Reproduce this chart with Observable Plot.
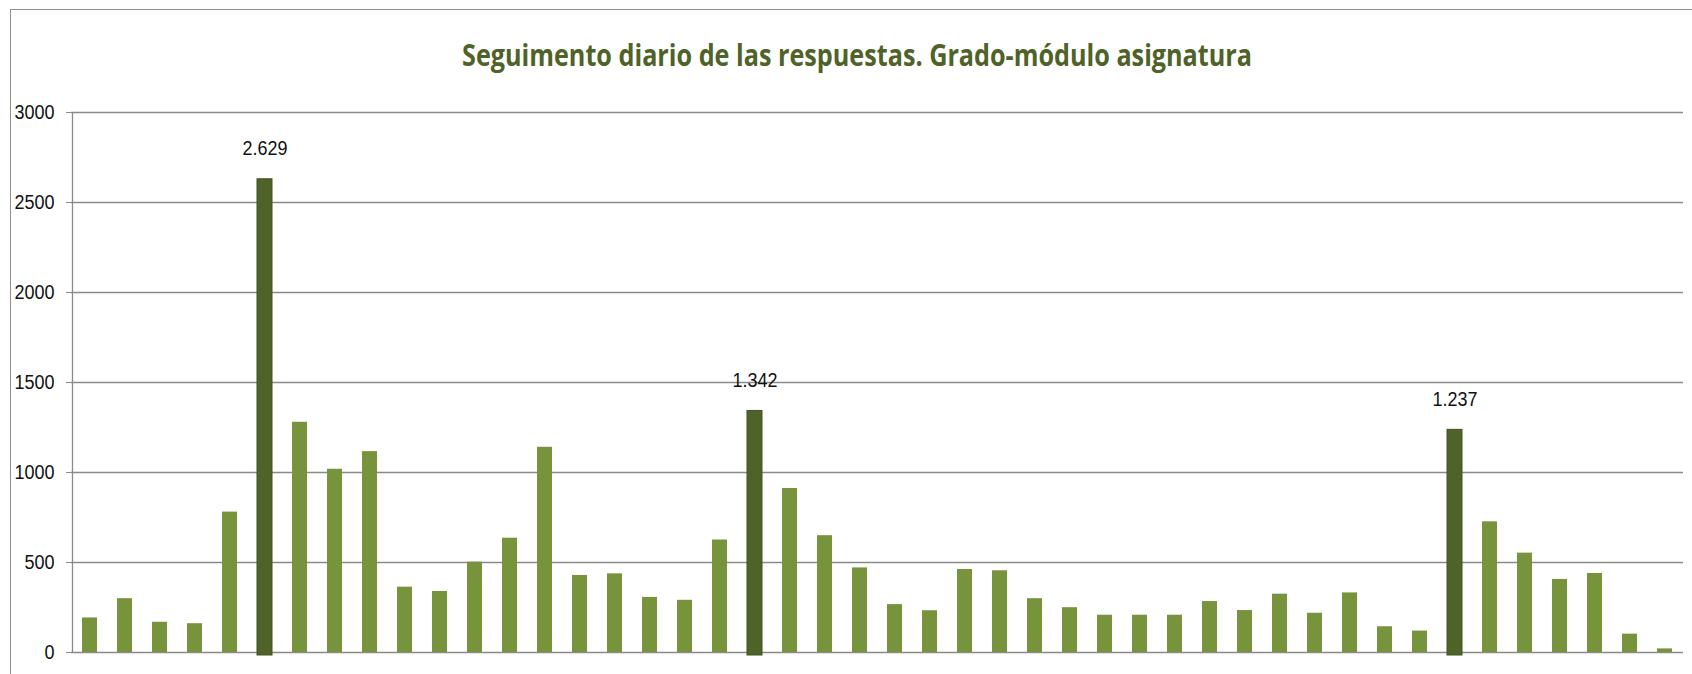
<!DOCTYPE html>
<html>
<head>
<meta charset="utf-8">
<script src="https://cdn.jsdelivr.net/npm/d3@7"></script>
<script src="https://cdn.jsdelivr.net/npm/@observablehq/plot@0.6"></script>
<style>
  body { margin: 0; background: #fff; }
  #wrap { position: relative; width: 1692px; height: 674px; overflow: hidden; background: #fff; }
  #border { position: absolute; left: 10px; top: 9px; width: 1720px; height: 720px; border: 1px solid #8f8f8f; box-sizing: border-box; }
  #chart { position: absolute; left: 0; top: 0; }
  #title { position: absolute; left: 0; top: 0; }
</style>
</head>
<body>
<div id="wrap">
  <div id="border"></div>
  <div id="chart"></div>
  <svg id="title" width="1692" height="100"></svg>
</div>
<script>
const chartTitle = "Seguimento diario de las respuestas. Grado-módulo asignatura";
const days = [1,2,3,4,5,6,7,8,9,10,11,12,13,14,15,16,17,18,19,20,21,22,23,24,25,26,27,28,29,30,31,32,33,34,35,36,37,38,39,40,41,42,43,44,45,46];
const responses = [192, 299, 168, 160, 780, 2629, 1279, 1018, 1116, 363, 339, 502, 635, 1140, 428, 437, 306, 290, 625, 1342, 911, 649, 470, 266, 232, 461, 454, 299, 249, 207, 207, 207, 283, 233, 324, 218, 331, 143, 119, 1237, 726, 552, 406, 439, 102, 20];
const peakDays = [6, 20, 40];
const yTicks = [0, 500, 1000, 1500, 2000, 2500, 3000];

const lightGreen = "#77933c";
const darkGreen = "#4f6228";
const gridGray = "#8a8a8a";
const numFont = "'Liberation Sans', Arimo, sans-serif";

const esLocale = d3.formatLocale({decimal: ",", thousands: ".", grouping: [3], currency: ["", " €"]});
const fmtLabel = esLocale.format(",d");

const data = days.map((d, i) => ({day: d, value: responses[i], peak: peakDays.includes(d)}));

const chart = Plot.plot({
  width: 1692,
  height: 674,
  marginLeft: 71,
  marginRight: 9,
  marginTop: 112,
  marginBottom: 22,
  style: {background: "transparent", fontFamily: numFont},
  x: {type: "band", domain: days, paddingInner: 0.58, paddingOuter: 0.29, axis: null},
  y: {domain: [0, 3000], axis: null, label: null},
  marks: [
    Plot.ruleY(yTicks, {stroke: gridGray, strokeWidth: 1.5}),
    Plot.ruleX([days[0]], {x: d => d, dx: -17.5, y1: 0, y2: 3000, stroke: gridGray, strokeWidth: 1.3}),
    Plot.axisY({ticks: yTicks, label: null, tickSize: 5, tickPadding: 12, stroke: gridGray, tickFormat: d3.format("d"), fontSize: 18, fill: "#111", fontFamily: numFont}),
    Plot.barY(data.filter(d => !d.peak), {x: "day", y: "value", fill: lightGreen}),
    Plot.barY(data.filter(d => d.peak), {x: "day", y: "value", fill: darkGreen, stroke: "#435322", strokeWidth: 1, insetBottom: -3}),
    Plot.text(data.filter(d => d.peak), {x: "day", y: "value", text: d => fmtLabel(d.value), dy: -24, lineAnchor: "bottom", fontSize: 18, fill: "#111", fontFamily: numFont})
  ]
});
document.getElementById("chart").appendChild(chart);

// stretch numeric labels vertically a little, like the narrow reference font
d3.select(chart).selectAll("text").each(function () {
  const t = this.getAttribute("transform");
  if (t) this.setAttribute("transform", t + " scale(1,1.15)");
});

d3.select("#title").append("text")
  .attr("x", 857)
  .attr("y", 66)
  .attr("text-anchor", "middle")
  .attr("textLength", 790)
  .attr("lengthAdjust", "spacingAndGlyphs")
  .attr("font-family", "'Open Sans', Lato, sans-serif")
  .attr("font-weight", "bold")
  .attr("font-size", 30)
  .attr("fill", darkGreen)
  .text(chartTitle);
</script>
</body>
</html>
